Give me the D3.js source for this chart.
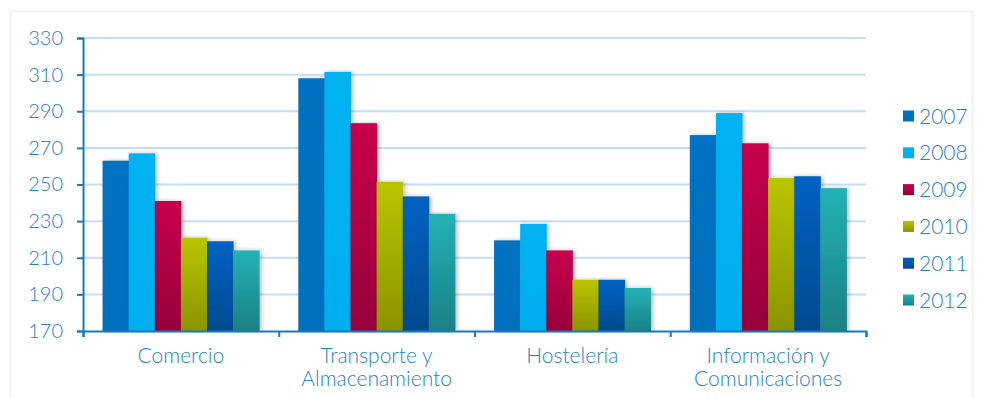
<!DOCTYPE html>
<html>
<head>
<meta charset="utf-8">
<script src="https://cdn.jsdelivr.net/npm/d3@7"></script>
<style>
  body { margin: 0; background: #fff; }
  text { font-family: Lato, "Open Sans", sans-serif; font-weight: 300; fill: #2a82c8; }
</style>
</head>
<body>
<script>
// data
let categories = [["Comercio"], ["Transporte y", "Almacenamiento"], ["Hostelería"], ["Información y", "Comunicaciones"]]
let years = ["2007", "2008", "2009", "2010", "2011", "2012"]
let v2007 = [263, 308, 219.5, 277]
let v2008 = [267, 311.5, 228.5, 289]
let v2009 = [241, 283.5, 214, 272.5]
let v2010 = [221, 251.5, 198, 253.5]
let v2011 = [219, 243.5, 198, 254.5]
let v2012 = [214, 234, 193.5, 248]
let series = [v2007, v2008, v2009, v2010, v2011, v2012]
let yTicks = [170, 190, 210, 230, 250, 270, 290, 310, 330]

// colour pairs (top, bottom) for each year
let colours = [["#0072c1", "#0070bd"], ["#00b2f0", "#00aeee"], ["#c8004c", "#96003a"],
  ["#bac500", "#8a9400"], ["#0062c3", "#004a8e"], ["#24b2b6", "#1a8085"]]

let W = 982, H = 398
let m = {left: 83, right: 116, top: 38, bottom: 67}

let svg = d3.select("body").append("svg")
  .attr("width", W).attr("height", H)

let defs = svg.append("defs")
colours.forEach((c, i) => {
  let g = defs.append("linearGradient").attr("id", "g" + i)
    .attr("x1", 0).attr("y1", 0).attr("x2", 0).attr("y2", 1)
  g.append("stop").attr("offset", "0%").attr("stop-color", c[0])
  g.append("stop").attr("offset", "100%").attr("stop-color", c[1])
})
let f = defs.append("filter").attr("id", "sh").attr("x", "-20%").attr("y", "-5%").attr("width", "150%").attr("height", "110%")
f.append("feDropShadow").attr("dx", 2).attr("dy", 0).attr("stdDeviation", 2)
  .attr("flood-color", "#000").attr("flood-opacity", 0.25)

// panel
svg.append("rect").attr("x", 10.5).attr("y", 11.5).attr("width", W - 20).attr("height", H - 10)
  .attr("fill", "#fff").attr("stroke", "#f2f2f2").attr("stroke-width", 2)

let x = d3.scaleBand().domain(d3.range(categories.length))
  .range([m.left, W - m.right]).paddingInner(0.2).paddingOuter(0.1)
let xo = d3.scaleBand().domain(d3.range(years.length)).range([0, x.bandwidth()])
let y = d3.scaleLinear().domain([170, 330]).range([H - m.bottom, m.top])

// grid
svg.append("g").selectAll("line").data(yTicks.slice(1)).enter().append("line")
  .attr("x1", m.left).attr("x2", W - m.right)
  .attr("y1", d => y(d)).attr("y2", d => y(d))
  .attr("stroke", "#c6dff6").attr("stroke-width", 2)

// bars
years.forEach((yr, i) => {
  svg.append("g").selectAll("rect").data(series[i]).enter().append("rect")
    .attr("x", (d, j) => x(j) + xo(i))
    .attr("y", d => y(d))
    .attr("width", xo.bandwidth() + 0.5)
    .attr("height", d => y(170) - y(d))
    .attr("fill", "url(#g" + i + ")")
    .attr("filter", "url(#sh)")
})

// y axis
let ya = svg.append("g").attr("transform", `translate(${m.left},0)`)
  .call(d3.axisLeft(y).tickValues(yTicks).tickSize(6).tickPadding(14))
ya.select(".domain").attr("stroke", "#1a78c2").attr("stroke-width", 2)
ya.selectAll(".tick line").attr("stroke", "#1a78c2").attr("stroke-width", 2)
ya.selectAll(".tick text").style("font-size", "20px").attr("fill", "#2a82c8")

// x axis
let outer = d3.scaleLinear().domain([0, categories.length]).range([m.left, W - m.right])
let xa = svg.append("g").attr("transform", `translate(0,${y(170)})`)
  .call(d3.axisBottom(outer).ticks(categories.length).tickSize(6).tickFormat(""))
xa.select(".domain").attr("stroke", "#1a78c2").attr("stroke-width", 2)
xa.selectAll(".tick line").attr("stroke", "#1a78c2").attr("stroke-width", 2)

svg.append("g").selectAll("text").data(categories).enter().append("text")
  .attr("x", (d, j) => (outer(j) + outer(j + 1)) / 2)
  .attr("y", 363)
  .attr("text-anchor", "middle")
  .style("font-size", "21px")
  .selectAll("tspan").data(d => d).enter().append("tspan")
  .attr("x", function () { return this.parentNode.getAttribute("x") })
  .attr("dy", (d, k) => k ? 23 : 0)
  .text(d => d)

// legend
let lg = svg.append("g").selectAll("g").data(years).enter().append("g")
  .attr("transform", (d, i) => `translate(903,${116 + i * 36.8})`)
lg.append("rect").attr("x", 0).attr("y", -5.5).attr("width", 11).attr("height", 11)
  .attr("fill", (d, i) => "url(#g" + i + ")")
lg.append("text").attr("x", 16).attr("y", 7.5).style("font-size", "21px").text(d => d)
</script>
</body>
</html>
